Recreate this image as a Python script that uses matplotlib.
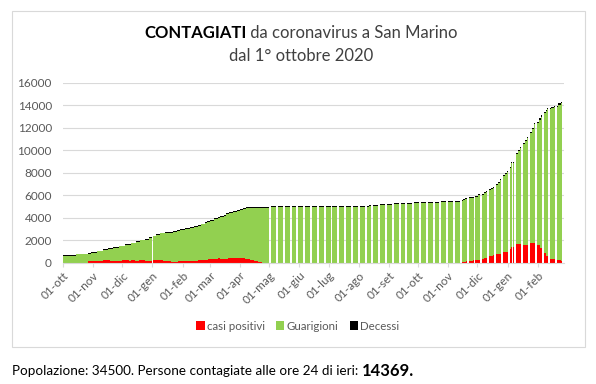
import pandas as pd
import matplotlib.pyplot as plt
from matplotlib.patches import Rectangle

# totale contagiati (cima della barra)
tot_dates = ['2020-10-01', '2020-10-14', '2020-10-27', '2020-10-30', '2020-11-05', '2020-11-11',
             '2020-11-16', '2020-11-21', '2020-11-28', '2020-12-04', '2020-12-10', '2020-12-15',
             '2020-12-19', '2020-12-24', '2020-12-28', '2021-01-02', '2021-01-05', '2021-01-09',
             '2021-01-14', '2021-01-22', '2021-01-26', '2021-01-29', '2021-02-03', '2021-02-09',
             '2021-02-13', '2021-02-17', '2021-02-20', '2021-02-24', '2021-02-26', '2021-03-01',
             '2021-03-05', '2021-03-09', '2021-03-11', '2021-03-15', '2021-03-18', '2021-03-21',
             '2021-03-25', '2021-03-29', '2021-04-01', '2021-04-04', '2021-04-07', '2021-04-13',
             '2021-05-03', '2021-08-01', '2021-08-12', '2021-08-22', '2021-09-05', '2021-09-27',
             '2021-10-25', '2021-11-05', '2021-11-14', '2021-11-16', '2021-11-18', '2021-11-22',
             '2021-11-28', '2021-12-02', '2021-12-05', '2021-12-08', '2021-12-10', '2021-12-13',
             '2021-12-15', '2021-12-17', '2021-12-20', '2021-12-22', '2021-12-24', '2021-12-27',
             '2021-12-29', '2021-12-31', '2022-01-03', '2022-01-05', '2022-01-10', '2022-01-12',
             '2022-01-14', '2022-01-17', '2022-01-19', '2022-01-21', '2022-01-24', '2022-01-26',
             '2022-01-28', '2022-01-31', '2022-02-02', '2022-02-04', '2022-02-07', '2022-02-09',
             '2022-02-11', '2022-02-15', '2022-02-18', '2022-02-22', '2022-02-25']
tot_values = [655, 773, 833, 922, 1040, 1188,
              1277, 1396, 1514, 1633, 1781, 1900,
              2048, 2107, 2255, 2403, 2551, 2670,
              2700, 2789, 2878, 2967, 3055, 3144,
              3233, 3351, 3470, 3589, 3707, 3826,
              3944, 4033, 4152, 4270, 4389, 4507,
              4626, 4714, 4803, 4863, 4922, 4981,
              5000, 5070, 5100, 5190, 5278, 5367,
              5456, 5490, 5570, 5680, 5750, 5870,
              5960, 6080, 6120, 6260, 6380, 6550,
              6650, 6760, 7000, 7200, 7410, 7800,
              7980, 8150, 8480, 8980, 9720, 10000,
              10310, 10610, 10900, 11200, 11650, 12000,
              12390, 12530, 12830, 13100, 13400, 13600,
              13780, 13880, 13960, 14170, 14300]

pos_dates = ['2020-10-01', '2020-10-27', '2020-11-11', '2020-11-18', '2020-12-01', '2020-12-08',
             '2020-12-10', '2020-12-14', '2020-12-18', '2020-12-24', '2021-01-02', '2021-01-12',
             '2021-01-20', '2021-01-27', '2021-02-17', '2021-02-27', '2021-03-09', '2021-03-11',
             '2021-03-20', '2021-04-06', '2021-04-11', '2021-04-15', '2021-04-19', '2021-04-24',
             '2021-11-15', '2021-11-19', '2021-11-26', '2021-12-06', '2021-12-08', '2021-12-13',
             '2021-12-17', '2021-12-20', '2021-12-27', '2022-01-01', '2022-01-05', '2022-01-10',
             '2022-01-17', '2022-01-24', '2022-01-31', '2022-02-03', '2022-02-07', '2022-02-10',
             '2022-02-14', '2022-02-21', '2022-02-25']
pos_values = [0, 120, 240, 120, 240, 120,
              240, 120, 240, 120, 240, 150,
              60, 150, 270, 360, 420, 360,
              450, 330, 240, 120, 30, 0,
              30, 120, 240, 330, 390, 600,
              680, 770, 940, 1200, 1380, 1680,
              1550, 1750, 1600, 1300, 900, 600,
              350, 280, 150]

dec_dates = ['2020-10-01', '2020-11-15', '2020-12-01', '2021-01-01', '2021-02-01', '2021-03-01',
             '2021-04-01', '2021-04-15', '2021-12-01', '2022-01-01', '2022-02-01', '2022-02-20']
dec_values = [42, 50, 55, 65, 73, 77, 86, 90, 92, 100, 108, 112]

# giorni senza dato (oltre ai fine settimana da maggio 2021)
missing_days = ['2021-01-01', '2022-01-06']

months = ['ott', 'nov', 'dic', 'gen', 'feb', 'mar', 'apr', 'mag', 'giu', 'lug', 'ago', 'set']

days = pd.date_range('2020-10-01', '2022-02-27')


def hold(d, v):
    return pd.Series(v, index=pd.to_datetime(d)).reindex(days, method='ffill').values


tot = hold(tot_dates, tot_values)
pos = hold(pos_dates, pos_values)
dec = hold(dec_dates, dec_values)
gua = tot - pos - dec

keep = ~days.isin(pd.to_datetime(missing_days)) & \
    ~((days >= '2021-05-01') & (days.dayofweek >= 5))
x = days[keep]

plt.rcParams['font.family'] = ['Lato', 'DejaVu Sans']
fig = plt.figure(figsize=(5.96, 3.84), dpi=100)
ax = fig.add_axes([63 / 596, 1 - 262.7 / 384, 501 / 596, 180 / 384])

kw = dict(width=1, align='edge', linewidth=0)
ax.bar(x, pos[keep], color='#FF0000', label='casi positivi', antialiased=False, **kw)
ax.bar(x, gua[keep], bottom=pos[keep], color='#92D050', label='Guarigioni', antialiased=False, **kw)
ax.bar(x, dec[keep], bottom=(pos + gua)[keep], color='#000000', label='Decessi', **kw)

ax.set_xlim(pd.Timestamp('2020-10-01'), pd.Timestamp('2022-02-28'))
ax.set_ylim(0, 16000)
ax.set_yticks(range(0, 16001, 2000))
ax.yaxis.grid(True, color='#d9d9d9', linewidth=0.8)
ax.set_axisbelow(True)

ticks = pd.date_range('2020-10-01', '2022-02-01', freq='MS')
ax.set_xticks(ticks)
ax.set_xticklabels(['01-' + months[(t.month - 10) % 12] for t in ticks],
                   rotation=45, ha='right', rotation_mode='anchor')

for s in ['top', 'right', 'left']:
    ax.spines[s].set_visible(False)
ax.spines['bottom'].set_color('#d9d9d9')
ax.tick_params(axis='y', length=0, labelsize=8.5, colors='#595959', pad=8)
ax.tick_params(axis='x', length=3, color='#d9d9d9', labelsize=8.5, labelcolor='#595959', pad=2)

fig.legend(loc='center', bbox_to_anchor=(0.5, 1 - 326 / 384), ncol=3, frameon=False,
           fontsize=8.3, labelcolor='#595959', handlelength=0.7, handleheight=0.7,
           handletextpad=0.2, columnspacing=1.0)

fig.patches.append(Rectangle((12 / 596, 1 - 347 / 384), 573 / 596, 336 / 384,
                             transform=fig.transFigure, fill=False,
                             edgecolor='#d9d9d9', linewidth=0.8))

# titolo su due parti (grassetto + normale) centrate
r = fig.canvas.get_renderer()
t1 = fig.text(0, 1 - 33 / 384, 'CONTAGIATI', fontsize=12, fontweight='bold', va='center')
t2 = fig.text(0, 1 - 33 / 384, ' da coronavirus a San Marino', fontsize=12,
              color='#404040', va='center')
w1 = t1.get_window_extent(r).width
w2 = t2.get_window_extent(r).width
x0 = 301 - (w1 + w2) / 2
t1.set_x(x0 / 596)
t2.set_x((x0 + w1) / 596)
fig.text(301 / 596, 1 - 56 / 384, 'dal 1° ottobre 2020', fontsize=12, color='#404040',
         ha='center', va='center')

f1 = fig.text(12 / 596, 1 - 371 / 384, 'Popolazione: 34500. Persone contagiate alle ore 24 di ieri: ',
              fontsize=9.7, va='center')
wf = f1.get_window_extent(r).width
fig.text((12 + wf) / 596, 1 - 371 / 384, '14369.', fontsize=12, fontweight='bold', va='center')

fig.savefig('out.png', dpi=100)
